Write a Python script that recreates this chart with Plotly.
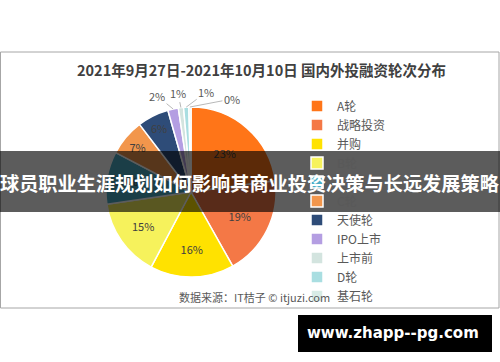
import math
import plotly.graph_objects as go

# Data
title_text = "2021年9月27日-2021年10月10日 国内外投融资轮次分布"
rounds = ["A轮", "战略投资", "并购", "B轮", "A+轮", "C轮", "天使轮", "IPO上市", "上市前", "D轮", "基石轮"]
shares = [23, 19, 16, 15, 10, 7, 6, 2, 1, 1, 0.4]
colors = ["#FF7518", "#F47846", "#FFE200", "#F6F25C", "#4BACC6", "#F2964C",
          "#2E4C78", "#B49EE2", "#D3E4DF", "#A9DEE1", "#D8ECE6"]
banner_text = "球员职业生涯规划如何影响其商业投资决策与长远发展策略"
source_text = "数据来源：IT桔子 © itjuzi.com"
site_text = "www.zhapp--pg.com"

# Style: which slices get an external callout label, and its pixel offset
outside_offsets = {7: (-16, -13), 8: (-3, -15), 9: (20, -15), 10: (42, -8)}

W, H = 500, 362
FONT = "Noto Sans CJK SC"

# pie geometry (pixels)
CX, CY, R = 191, 192, 85
dom_x = [(CX - R) / W, (CX + R) / W]
dom_y = [(H - CY - R) / H, (H - CY + R) / H]

text_pos = ["none" if i in outside_offsets else "inside" for i in range(len(rounds))]

fig = go.Figure()
fig.add_trace(go.Pie(
    labels=rounds,
    values=shares,
    sort=False,
    direction="clockwise",
    rotation=0,
    marker=dict(colors=colors, line=dict(color="white", width=1.5)),
    texttemplate="%{percent:.0%}",
    textposition=text_pos,
    insidetextorientation="horizontal",
    insidetextfont=dict(family=FONT, size=11, color="#404040"),
    hoverinfo="label+percent",
    domain=dict(x=dom_x, y=dom_y),
))

shapes = [
    dict(type="rect", xref="paper", yref="paper", x0=0.5 / W, x1=499 / W,
         y0=(H - 308) / H, y1=(H - 52) / H, line=dict(color="#A6A6A6", width=1),
         fillcolor="rgba(0,0,0,0)", layer="below"),
    dict(type="rect", xref="paper", yref="paper", x0=0, x1=1,
         y0=(H - 212) / H, y1=(H - 151) / H, line=dict(width=0),
         fillcolor="rgba(0,0,0,0.64)", layer="above"),
    dict(type="rect", xref="paper", yref="paper", x0=298 / W, x1=492 / W,
         y0=(H - 352) / H, y1=(H - 315) / H, line=dict(width=0),
         fillcolor="#000000", layer="above"),
]

annotations = []
total = sum(shares)
cum = 0.0
for i, v in enumerate(shares):
    mid = (cum + v / 2) / total * 2 * math.pi
    cum += v
    if i in outside_offsets:
        px = CX + R * math.sin(mid)
        py = CY - R * math.cos(mid)
        ax, ay = outside_offsets[i]
        annotations.append(dict(
            text=f"{round(v / total * 100):.0f}%", x=px / W, y=(H - py) / H,
            xref="paper", yref="paper", ax=ax, ay=ay, showarrow=True,
            arrowhead=0, arrowwidth=0.8, arrowcolor="#A6A6A6", standoff=0,
            font=dict(family=FONT, size=11, color="#595959")))

annotations += [
    dict(text=title_text, x=261 / W, y=(H - 70) / H, xref="paper", yref="paper",
         showarrow=False, xanchor="center", yanchor="middle",
         font=dict(family=FONT, size=14.5, color="#404040", weight="bold")),
    dict(text=banner_text, x=0.5, y=(H - 183) / H, xref="paper", yref="paper",
         showarrow=False, xanchor="center", yanchor="middle",
         font=dict(family=FONT, size=19.2, color="white", weight="bold")),
    dict(text=source_text, x=177 / W, y=(H - 297) / H, xref="paper", yref="paper",
         showarrow=False, xanchor="left", yanchor="middle",
         font=dict(family=FONT, size=11, color="#595959")),
    dict(text=site_text, x=393 / W, y=(H - 333) / H, xref="paper", yref="paper",
         showarrow=False, xanchor="center", yanchor="middle",
         font=dict(family="DejaVu Sans", size=15, color="white", weight="bold")),
]

fig.update_layout(
    width=W, height=H,
    margin=dict(l=0, r=0, t=0, b=0),
    paper_bgcolor="white",
    plot_bgcolor="white",
    showlegend=True,
    legend=dict(x=297 / W, y=(H - 201) / H, xanchor="left", yanchor="middle",
                font=dict(family=FONT, size=12, color="#595959"),
                bgcolor="rgba(0,0,0,0)", itemclick=False),
    shapes=shapes,
    annotations=annotations,
)

fig.write_html("out.html",
               config={"displayModeBar": False},
               post_script="document.body.style.margin='0';document.body.style.padding='0';")
